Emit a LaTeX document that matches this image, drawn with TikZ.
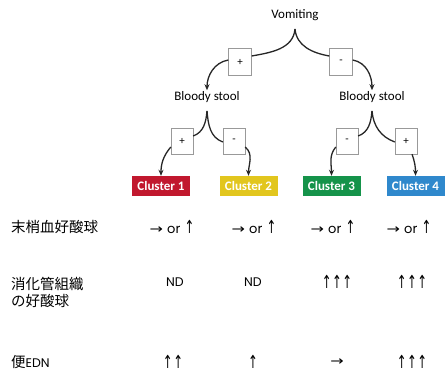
\documentclass[tikz,border=0pt]{standalone}
\usepackage{fontspec}
\usepackage{graphicx}
\setmainfont{Carlito}
\newfontfamily\jpfont{Noto Sans CJK JP}
\newfontfamily\geofont{Poppins}
\newfontfamily\arrfont{DejaVu Sans}
\usetikzlibrary{arrows.meta}
\definecolor{cred}{HTML}{C1182E}
\definecolor{cyel}{HTML}{E2C61E}
\definecolor{cgrn}{HTML}{15934A}
\definecolor{cblu}{HTML}{2F88CC}
\tikzset{
  lbl/.style={font=\fontsize{13}{14}\selectfont, inner sep=1pt},
  sgn/.style={draw=black!40, fill=white, minimum width=23pt, minimum height=27pt, inner sep=0pt, font=\fontsize{11}{12}\selectfont},
  sgns/.style={sgn, minimum width=22pt, minimum height=26pt},
  clus/.style={text=white, minimum width=58pt, minimum height=20pt, inner sep=0pt, font=\bfseries\fontsize{13}{14}\selectfont},
  ln/.style={line width=1.3pt, black!85},
  arr/.style={ln, -{Stealth[length=6pt,width=5pt]}},
  rowl/.style={font=\jpfont\fontsize{14.5}{17}\selectfont, anchor=west, align=left, inner sep=0pt},
  val/.style={font=\arrfont\fontsize{13}{14}\selectfont, inner sep=0pt},
}
\newcommand{\orw}{{\geofont\fontsize{13}{14}\selectfont or}}
\newcommand{\upa}{\scalebox{0.65}[1]{\arrfont\fontsize{18}{19}\selectfont ↑}}
\newcommand{\rta}{\scalebox{1}[0.8]{\arrfont\fontsize{16}{17}\selectfont →}}
\begin{document}
\begin{tikzpicture}[x=1pt,y=1pt]
\useasboundingbox (0,0) rectangle (445,374);
% level 0
\node[lbl] (vom) at (295,359) {Vomiting};
\coordinate (c0) at (295,345);
\node[sgn] (p0) at (240,312) {+};
\node[sgn] (m0) at (341,312) {-};
\node[lbl] (bsl) at (207,277) {Bloody stool};
\node[lbl] (bsr) at (372,277) {Bloody stool};
\draw[ln] (c0) to[out=-95,in=10] ([yshift=6pt]p0.east);
\draw[ln] (c0) to[out=-85,in=170] ([yshift=6pt]m0.west);
\draw[arr] ([yshift=2pt]p0.west) to[out=190,in=90] (bsl.north);
\draw[arr] ([yshift=2pt]m0.east) to[out=-10,in=90] (bsr.north);
% level 1
\coordinate (cl) at (207,263);
\coordinate (cr) at (372,263);
\node[sgns] (pl) at (182,233) {+};
\node[sgns] (ml) at (234,233) {-};
\node[sgns] (mr) at (347,233) {-};
\node[sgns] (pr) at (406,233) {+};
\node[clus, fill=cred] (k1) at (161,188) {Cluster 1};
\node[clus, fill=cyel] (k2) at (248.5,188) {Cluster 2};
\node[clus, fill=cgrn] (k3) at (331.5,188) {Cluster 3};
\node[clus, fill=cblu] (k4) at (415.5,188) {Cluster 4};
\draw[ln] (cl) to[out=-95,in=20] ([yshift=5pt]pl.east);
\draw[ln] (cl) to[out=-85,in=160] ([yshift=-1pt]ml.west);
\draw[ln] (cr) to[out=-95,in=20] ([yshift=5pt]mr.east);
\draw[ln] (cr) to[out=-85,in=160] ([yshift=-1pt]pr.west);
\draw[arr] ([yshift=-6pt]pl.west) to[out=230,in=90] (k1.north);
\draw[arr] ([yshift=-6pt]ml.east) to[out=-40,in=90] (k2.north);
\draw[arr] ([yshift=-6pt]mr.west) to[out=230,in=90] (k3.north);
\draw[arr] ([xshift=6pt]pr.south) to[out=-70,in=90] (k4.north);
% rows
\node[rowl] (r1) at (11,147) {末梢血好酸球};
\node[rowl] (r2) at (11,82) {消化管組織\\の好酸球};
\node[rowl] (r3) at (11,12) {便{\geofont\fontsize{12.5}{13}\selectfont EDN}};
\node[val] (a1) at (172,147) {\rta\ \orw\ \upa};
\node[val] (a2) at (254,147) {\rta\ \orw\ \upa};
\node[val] (a3) at (333,147) {\rta\ \orw\ \upa};
\node[val] (a4) at (409,147) {\rta\ \orw\ \upa};
\node[val, font=\geofont\fontsize{12.5}{13}\selectfont] (b1) at (175,92) {ND};
\node[val, font=\geofont\fontsize{12.5}{13}\selectfont] (b2) at (253,92) {ND};
\node[val] (b3) at (337,92) {\upa\kern0.5pt\upa\kern0.5pt\upa};
\node[val] (b4) at (412,92) {\upa\kern0.5pt\upa\kern0.5pt\upa};
\node[val] (d1) at (173,12) {\upa\kern0.5pt\upa};
\node[val] (d2) at (253,12) {\upa};
\node[val] (d3) at (337,12) {\rta};
\node[val] (d4) at (412,12) {\upa\kern0.5pt\upa\kern0.5pt\upa};
\end{tikzpicture}
\end{document}
